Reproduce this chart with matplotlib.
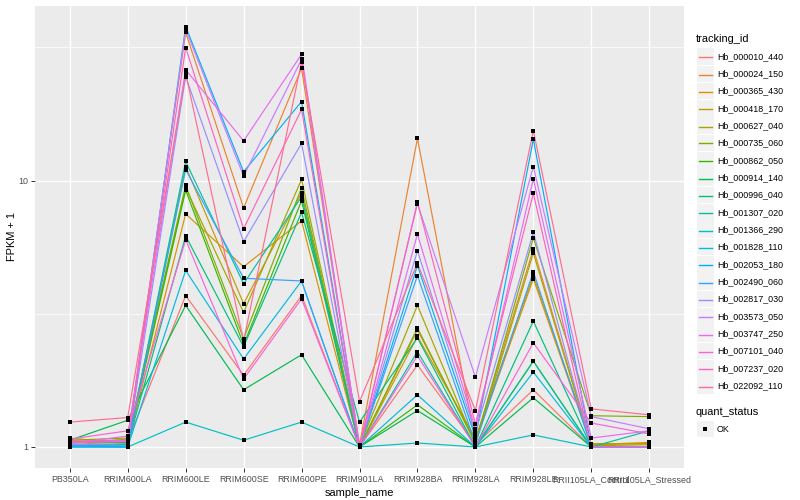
import matplotlib
matplotlib.use("Agg")
import matplotlib.pyplot as plt
import numpy as np
from matplotlib.patches import Rectangle
from matplotlib.lines import Line2D

plt.rcParams['font.family'] = ['Liberation Sans', 'DejaVu Sans']

samples = ["PB350LA", "RRIM600LA", "RRIM600LE", "RRIM600SE", "RRIM600PE", "RRIM901LA",
           "RRIM928BA", "RRIM928LA", "RRIM928LE", "RRII105LA_Control", "RRII105LA_Stressed"]

tracking_ids = ["Hb_000010_440", "Hb_000024_150", "Hb_000365_430", "Hb_000418_170", "Hb_000627_040",
                "Hb_000735_060", "Hb_000862_050", "Hb_000914_140", "Hb_000996_040", "Hb_001307_020",
                "Hb_001366_290", "Hb_001828_110", "Hb_002053_180", "Hb_002490_060", "Hb_002817_030",
                "Hb_003573_050", "Hb_003747_250", "Hb_007101_040", "Hb_007237_020", "Hb_022092_110"]

colors = ["#F8766D", "#EA8331", "#D89000", "#C09B00", "#A3A500", "#7CAE00", "#39B600", "#00BB4E",
          "#00BF7D", "#00C1A3", "#00BFC4", "#00BAE0", "#00B0F6", "#35A2FF", "#9590FF", "#C77CFF",
          "#E76BF3", "#FA62DB", "#FF62BC", "#FF6C91"]

# FPKM + 1 per sample, one list per gene
hb_000010_440 = [1.02, 1.05, 3.7, 1.86, 3.7, 1.0, 2.03, 1.02, 1.64, 1.0, 1.0]
hb_000024_150 = [1.05, 1.06, 36.0, 7.9, 26.4, 1.02, 14.4, 1.05, 5.55, 1.02, 1.03]
hb_000365_430 = [1.08, 1.03, 7.5, 4.75, 7.06, 1.0, 2.75, 1.05, 4.28, 1.02, 1.04]
hb_000418_170 = [1.04, 1.04, 11.3, 3.45, 9.0, 1.0, 2.6, 1.08, 4.4, 1.03, 1.03]
hb_000627_040 = [1.03, 1.07, 9.4, 3.2, 10.1, 1.01, 3.4, 1.02, 5.35, 1.01, 1.02]
hb_000735_060 = [1.06, 1.08, 9.6, 2.55, 9.4, 1.0, 2.8, 1.03, 6.1, 1.31, 1.30]
hb_000862_050 = [1.05, 1.04, 9.2, 2.42, 8.4, 1.0, 1.44, 1.0, 2.1, 1.0, 1.0]
hb_000914_140 = [1.06, 1.26, 3.4, 1.64, 2.22, 1.0, 1.37, 1.0, 1.53, 1.0, 1.0]
hb_000996_040 = [1.02, 1.02, 6.2, 2.38, 7.6, 1.24, 2.57, 1.0, 2.97, 1.0, 1.0]
hb_001307_020 = [1.01, 1.02, 11.8, 4.1, 8.7, 1.0, 2.28, 1.0, 2.1, 1.0, 1.15]
hb_001366_290 = [1.0, 1.0, 1.24, 1.06, 1.24, 1.0, 1.035, 1.0, 1.11, 1.0, 1.0]
hb_001828_110 = [1.0, 1.0, 4.6, 2.14, 4.2, 1.0, 1.57, 1.0, 1.91, 1.0, 1.0]
hb_002053_180 = [1.01, 1.0, 37.9, 10.8, 19.8, 1.0, 4.8, 1.09, 14.3, 1.0, 1.0]
hb_002490_060 = [1.01, 1.01, 11.0, 4.3, 4.2, 1.0, 4.4, 1.03, 4.55, 1.0, 1.0]
hb_002817_030 = [1.02, 1.03, 24.6, 5.9, 13.8, 1.0, 5.45, 1.13, 6.4, 1.0, 1.0]
hb_003573_050 = [1.04, 1.05, 37.0, 10.4, 28.5, 1.0, 8.2, 1.83, 11.3, 1.30, 1.17]
hb_003747_250 = [1.03, 1.10, 26.1, 14.1, 29.8, 1.0, 6.3, 1.17, 10.15, 1.08, 1.15]
hb_007101_040 = [1.07, 1.15, 6.0, 1.8, 3.6, 1.0, 2.2, 1.0, 2.46, 1.23, 1.12]
hb_007237_020 = [1.05, 1.06, 31.6, 6.6, 18.5, 1.0, 8.3, 1.22, 8.95, 1.0, 1.0]
hb_022092_110 = [1.24, 1.29, 25.3, 2.5, 28.0, 1.48, 4.9, 1.37, 15.4, 1.39, 1.32]

series = [hb_000010_440, hb_000024_150, hb_000365_430, hb_000418_170, hb_000627_040,
          hb_000735_060, hb_000862_050, hb_000914_140, hb_000996_040, hb_001307_020,
          hb_001366_290, hb_001828_110, hb_002053_180, hb_002490_060, hb_002817_030,
          hb_003573_050, hb_003747_250, hb_007101_040, hb_007237_020, hb_022092_110]

W, H = 800, 500
fig = plt.figure(figsize=(8, 5), dpi=100)
L, R, T, B = 35, 684, 5.5, 468
ax = fig.add_axes([L / W, 1 - B / H, (R - L) / W, (B - T) / H])
ax.set_facecolor("#EBEBEB")

x = np.arange(len(samples))
for vals, c in zip(series, colors):
    ax.plot(x, vals, color=c, lw=0.85, zorder=2)
for vals in series:
    ax.plot(x, vals, ls='none', marker='s', ms=2.3, mew=0, color='black', zorder=3)

ax.set_yscale('log')
allv = np.concatenate([np.array(s) for s in series])
lo, hi = np.log10(allv.min()), np.log10(allv.max())
pad = 0.05 * (hi - lo)
ax.set_ylim(10 ** (lo - pad), 10 ** (hi + pad))
ax.set_xlim(-0.6, len(samples) - 1 + 0.6)

ax.set_yticks([1, 10])
ax.set_yticklabels(["1", "10"])
ax.set_yticks([10 ** 0.5, 10 ** 1.5], minor=True)
ax.yaxis.set_minor_formatter(matplotlib.ticker.NullFormatter())
ax.set_xticks(x)
ax.set_xticklabels(samples)

ax.grid(True, which='major', color='white', lw=1.0, zorder=0)
ax.grid(True, which='minor', axis='y', color='white', lw=0.5, zorder=0)
ax.set_axisbelow(True)
for s in ax.spines.values():
    s.set_visible(False)
ax.tick_params(axis='both', which='major', length=3, width=0.7, color='#333333',
               labelsize=6.4, labelcolor='#4D4D4D', pad=2)
ax.tick_params(axis='y', which='minor', length=0)

ax.set_xlabel("sample_name", fontsize=7.9, color='black', labelpad=3)
ax.set_ylabel("FPKM + 1", fontsize=7.9, color='black')
ax.yaxis.set_label_coords(-(L - 17) / (R - L), 0.5)

# legend (ggplot-style)
def fx(px):
    return px / W

def fy(py):
    return 1 - py / H

fig.text(fx(696), fy(39), "tracking_id", fontsize=7.9, va='center', ha='left')
y0, dy = 56.5, 17.32
for i, (name, c) in enumerate(zip(tracking_ids, colors)):
    yc = y0 + i * dy
    fig.patches.append(Rectangle((fx(697), fy(yc + 8.3)), 16.5 / W, 16.6 / H,
                                 transform=fig.transFigure, facecolor='#F2F2F2', edgecolor='none',
                                 zorder=1))
    fig.lines.append(Line2D([fx(698.5), fx(712)], [fy(round(yc) + 0.5), fy(round(yc) + 0.5)],
                            transform=fig.transFigure, color=c, lw=1.0, zorder=3))
    fig.text(fx(717), fy(yc), name, fontsize=6.4, va='center', ha='left')

fig.text(fx(696), fy(412), "quant_status", fontsize=7.9, va='center', ha='left')
fig.patches.append(Rectangle((fx(697), fy(429 + 8.3)), 16.5 / W, 16.6 / H,
                             transform=fig.transFigure, facecolor='#F2F2F2', edgecolor='none',
                             zorder=1))
fig.lines.append(Line2D([fx(705.2)], [fy(429)], transform=fig.transFigure, marker='s', ms=2.3,
                        mew=0, color='black', ls='none', zorder=3))
fig.text(fx(717), fy(429), "OK", fontsize=6.4, va='center', ha='left')

fig.savefig("out.png", dpi=100)
